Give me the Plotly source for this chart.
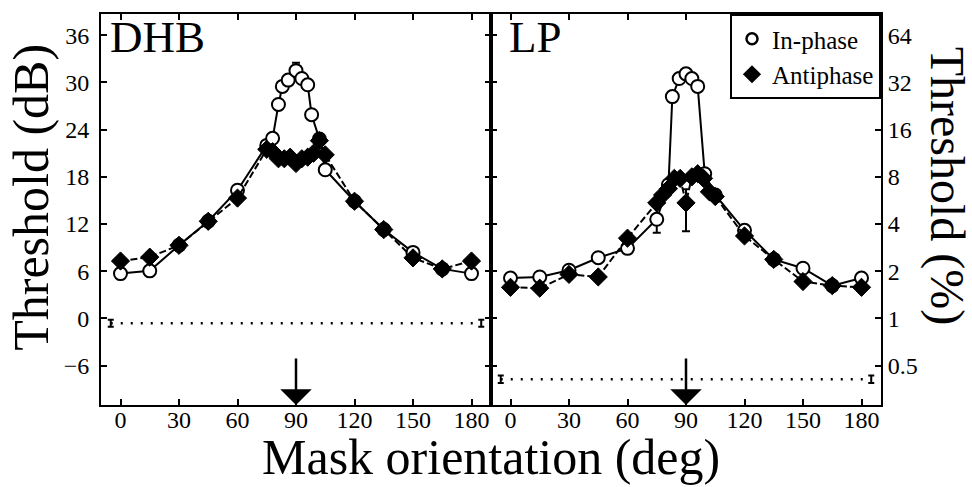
import math
import plotly.graph_objects as go

# ---------------- data ----------------
# DHB panel (threshold in dB)
dhb_in_x = [0, 15, 30, 45, 60, 75, 78, 81, 83, 86, 90, 93, 96, 98, 102, 105, 120, 135, 150, 165, 180]
dhb_in_y = [5.7, 6.05, 9.3, 12.35, 16.3, 22.0, 22.9, 27.2, 29.5, 30.3, 31.5, 30.5, 29.7, 25.9, 22.8, 18.9, 14.9, 11.3, 8.4, 6.3, 5.7]
dhb_in_err = [0, 0, 0, 0, 0, 0, 0, 0, 0, 0, 1.0, 0, 0, 0, 0, 0, 0, 0, 0, 0, 0]

dhb_anti_x = [0, 15, 30, 45, 60, 75, 78, 81, 84, 87, 90, 93, 96, 99, 102, 105, 120, 135, 150, 165, 180]
dhb_anti_y = [7.3, 7.8, 9.3, 12.35, 15.3, 21.5, 21.2, 20.3, 20.3, 20.5, 19.7, 20.3, 20.5, 21.0, 22.6, 20.8, 14.9, 11.3, 7.7, 6.3, 7.3]

# LP panel (threshold in %)
lp_in_x = [0, 15, 30, 45, 60, 75, 81, 83, 86.5, 90, 93, 96, 99.6, 105, 120, 135, 150, 165, 180]
lp_in_y = [1.81, 1.84, 2.03, 2.44, 2.80, 4.29, 7.13, 26.0, 33.9, 36.3, 33.9, 30.2, 8.38, 6.13, 3.65, 2.38, 2.09, 1.62, 1.81]
lp_in_err_lo = [0, 0, 0, 0, 0, 0.77, 0, 0, 0, 0, 0, 0, 0, 0, 0, 0, 0, 0, 0]
lp_in_err_hi = [0, 0, 0, 0, 0, 0.9, 0, 0, 0, 0, 0, 0, 0, 0, 0, 0, 0, 0, 0]

lp_anti_x = [0, 15, 30, 45, 60, 75, 78, 81, 84, 87, 90, 93, 96, 99, 102, 105, 120, 135, 150, 165, 180]
lp_anti_y = [1.58, 1.56, 1.91, 1.84, 3.25, 5.46, 6.13, 6.73, 7.82, 7.82, 5.46, 8.0, 8.38, 7.82, 6.42, 5.99, 3.36, 2.38, 1.72, 1.62, 1.58]
lp_anti_err_lo = [0, 0, 0, 0, 0, 0, 0, 0, 0, 0, 1.86, 0, 0, 0, 0, 0, 0, 0, 0, 0, 0]
lp_anti_err_hi = [0, 0, 0, 0, 0, 0, 0, 0, 0, 0, 1.2, 0, 0, 0, 0, 0, 0, 0, 0, 0, 0]

# detection thresholds without mask (dotted reference lines)
ref_x = [-5, 185]
dhb_ref = [-0.6, -0.6]
dhb_ref_err = [0.45, 0.45]
lp_ref = [0.41, 0.41]
lp_ref_err = [0.022, 0.022]

x_ticks = [0, 30, 60, 90, 120, 150, 180]
dhb_ticks = [-6, 0, 6, 12, 18, 24, 30, 36]
lp_ticks = [0.5, 1, 2, 4, 8, 16, 32, 64]
lp_tick_text = ["0.5", "1", "2", "4", "8", "16", "32", "64"]
mask_orientation = 90

# ---------------- figure ----------------
FONT = "Liberation Serif"
fig = go.Figure()

in_marker = dict(symbol="circle", size=13, color="white", line=dict(color="black", width=2))
anti_marker = dict(symbol="diamond", size=14, color="black", line=dict(color="black", width=1))

def add_panel(xa, ya, in_x, in_y, in_err, an_x, an_y, an_err, r_y, r_err):
    # reference dotted line
    fig.add_trace(go.Scatter(x=ref_x, y=r_y, mode="lines", xaxis=xa, yaxis=ya,
                             line=dict(color="black", width=2.5, dash="2px,8px"),
                             error_y=dict(type="data", array=r_err, color="black", thickness=2, width=3),
                             showlegend=False, hoverinfo="skip"))
    fig.add_trace(go.Scatter(x=in_x, y=in_y, mode="lines+markers", xaxis=xa, yaxis=ya,
                             line=dict(color="black", width=2), marker=in_marker,
                             error_y=in_err, showlegend=False))
    fig.add_trace(go.Scatter(x=an_x, y=an_y, mode="lines+markers", xaxis=xa, yaxis=ya,
                             line=dict(color="black", width=2, dash="7px,3px"), marker=anti_marker,
                             error_y=an_err, showlegend=False))

add_panel("x", "y", dhb_in_x, dhb_in_y,
          dict(type="data", array=dhb_in_err, color="black", thickness=2, width=4),
          dhb_anti_x, dhb_anti_y, None, dhb_ref, dhb_ref_err)
add_panel("x2", "y2", lp_in_x, lp_in_y,
          dict(type="data", array=lp_in_err_hi, arrayminus=lp_in_err_lo, symmetric=False,
               color="black", thickness=2, width=4),
          lp_anti_x, lp_anti_y,
          dict(type="data", array=lp_anti_err_hi, arrayminus=lp_anti_err_lo, symmetric=False,
               color="black", thickness=2, width=4),
          lp_ref, lp_ref_err)

# legend-only entries
fig.add_trace(go.Scatter(x=[None], y=[None], mode="markers", name="In-phase",
                         marker=dict(symbol="circle", size=11, color="white", line=dict(color="black", width=2.5)),
                         xaxis="x2", yaxis="y2"))
fig.add_trace(go.Scatter(x=[None], y=[None], mode="markers", name="Antiphase",
                         marker=dict(symbol="diamond", size=14, color="black"),
                         xaxis="x2", yaxis="y2"))

tickfont = dict(family=FONT, size=24, color="black")
axis_common = dict(showgrid=False, zeroline=False, showline=True, linecolor="black", linewidth=2,
                   ticks="inside", ticklen=6, tickwidth=2, tickcolor="black", mirror="ticks",
                   tickfont=tickfont)

db_lo, db_hi = -11.0, 38.7

fig.update_layout(
    width=972, height=487,
    margin=dict(l=101, r=91, t=12, b=82),
    plot_bgcolor="white", paper_bgcolor="white",
    font=dict(family=FONT, color="black"),
    xaxis=dict(domain=[0, 0.5], range=[-10, 190], tickvals=x_ticks, anchor="y",
               ticklabelstandoff=-8, **axis_common),
    xaxis2=dict(domain=[0.5, 1], range=[-10, 190], tickvals=x_ticks, anchor="y2",
                ticklabelstandoff=-8, **axis_common),
    yaxis=dict(range=[db_lo, db_hi], tickvals=dhb_ticks, anchor="x", ticklabelstandoff=5, **axis_common),
    yaxis2=dict(type="log", range=[math.log10(2 ** (db_lo / 6)), math.log10(2 ** (db_hi / 6))],
                tickvals=lp_ticks, ticktext=lp_tick_text, side="right", anchor="x2", **axis_common),
    legend=dict(x=1, y=1, xanchor="right", yanchor="top", bgcolor="white",
                bordercolor="black", borderwidth=2,
                font=dict(family=FONT, size=25, color="black"),
                itemwidth=30, tracegroupgap=0),
    showlegend=True,
)

annos = [
    dict(text="DHB", x=0.009, y=0.942, xref="paper", yref="paper", xanchor="left", yanchor="middle",
         showarrow=False, font=dict(family=FONT, size=45)),
    dict(text="LP", x=0.52, y=0.942, xref="paper", yref="paper", xanchor="left", yanchor="middle",
         showarrow=False, font=dict(family=FONT, size=45)),
    dict(text="Threshold (dB)", x=-0.09, y=0.532, xref="paper", yref="paper", textangle=-90,
         xanchor="center", yanchor="middle", showarrow=False, font=dict(family=FONT, size=50)),
    dict(text="Threshold (%)", x=1.085, y=0.56, xref="paper", yref="paper", textangle=90,
         xanchor="center", yanchor="middle", showarrow=False, font=dict(family=FONT, size=48)),
    dict(text="Mask orientation (deg)", x=0.5, y=-0.133, xref="paper", yref="paper",
         xanchor="center", yanchor="middle", showarrow=False, font=dict(family=FONT, size=50)),
]
for xr, yr in (("x", "y domain"), ("x2", "y2 domain")):
    annos.append(dict(text="", x=mask_orientation, y=0, xref=xr, yref=yr, ax=0, ay=-48,
                      showarrow=True, arrowhead=1, arrowsize=2.1, arrowwidth=2.5,
                      arrowcolor="black", standoff=0))
fig.update_layout(annotations=annos)

fig.write_html("out.html", config={"displayModeBar": False},
               post_script="document.body.style.margin='0';document.body.style.overflow='hidden';")
